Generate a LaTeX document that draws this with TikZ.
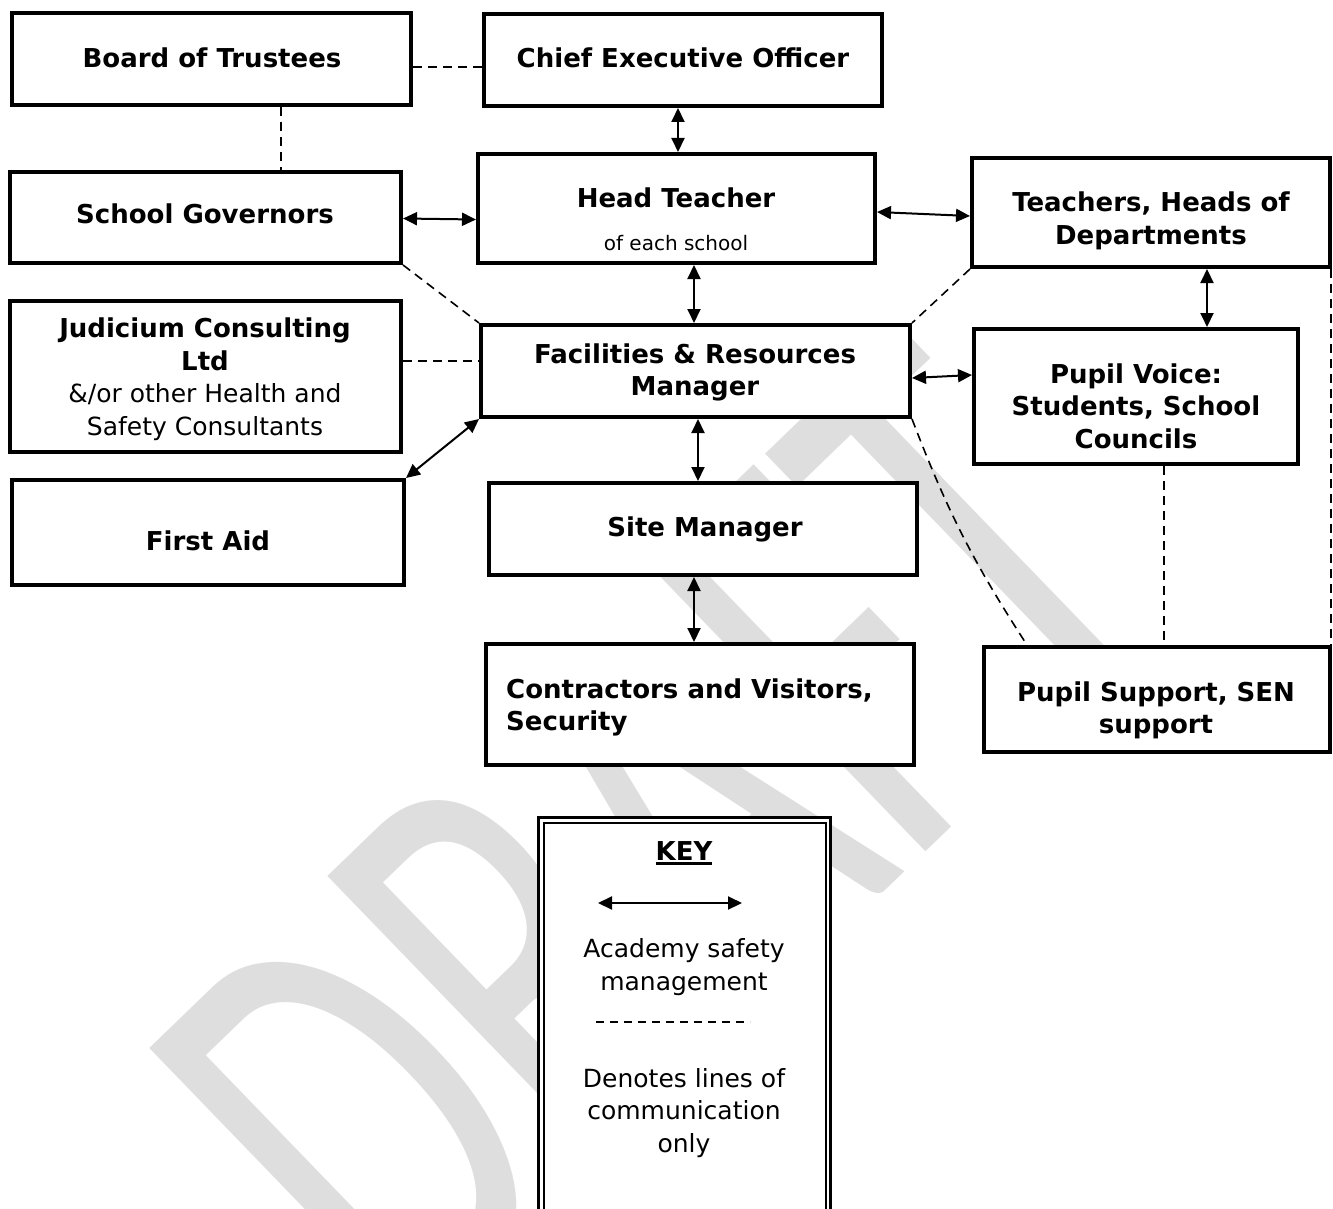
\documentclass[tikz,border=0pt]{standalone}
\usepackage{fontspec}
\setmainfont{DejaVu Sans}
\newfontfamily\wmfont{Carlito}
\usetikzlibrary{arrows.meta,calc}
\definecolor{wm}{RGB}{222,222,222}
\newcommand\keyul[1]{\setbox0=\hbox{#1}\rlap{\rule[-4.5pt]{\wd0}{2.8pt}}\box0}
\begin{document}
\begin{tikzpicture}[x=1pt,y=-1pt,
  box/.style={draw, line width=4pt, fill=white, inner sep=0pt},
  bt/.style={font=\fontsize{26}{32.5}\selectfont\bfseries, align=center, inner sep=0pt},
  rt/.style={font=\fontsize{25}{32.5}\selectfont, align=center, inner sep=0pt},
  st/.style={font=\fontsize{20}{24}\selectfont, align=center, inner sep=0pt},
  arr/.style={line width=2pt, {Triangle[length=14pt,width=13pt]}-{Triangle[length=14pt,width=13pt]}},
  dsh/.style={line width=1.6pt, dash pattern=on 9pt off 6pt},
]
\useasboundingbox (0,0) rectangle (1333,1209);
\clip (0,0) rectangle (1333,1209);
\fill[white] (0,0) rectangle (1333,1209);
% watermark
\node[anchor=base west, inner sep=0pt, text=wm, rotate=44, xscale=4.0, yscale=6.2,
      font=\fontsize{100}{100}\selectfont\wmfont] (wmark) at (406,1354) {DRAFT};
% boxes
\node[box, minimum width=399pt, minimum height=92pt]  (board) at (211.5,59) {};
\node[box, minimum width=398pt, minimum height=92pt]  (ceo)   at (683,60) {};
\node[box, minimum width=391pt, minimum height=91pt]  (gov)   at (205.5,217.5) {};
\node[box, minimum width=397pt, minimum height=109pt] (ht)    at (676.5,208.5) {};
\node[box, minimum width=358pt, minimum height=109pt] (teach) at (1151,212.5) {};
\node[box, minimum width=391pt, minimum height=151pt] (jud)   at (205.5,376.5) {};
\node[box, minimum width=429pt, minimum height=92pt]  (fac)   at (695.5,371) {};
\node[box, minimum width=324pt, minimum height=135pt] (pv)    at (1136,396.5) {};
\node[box, minimum width=392pt, minimum height=105pt] (fa)    at (208,532.5) {};
\node[box, minimum width=428pt, minimum height=92pt]  (site)  at (703,529) {};
\node[box, minimum width=428pt, minimum height=121pt] (contr) at (700,704.5) {};
\node[box, minimum width=346pt, minimum height=105pt] (ps)    at (1157,699.5) {};
% key frame
\node[draw, line width=3pt, fill=white, inner sep=0pt, minimum width=292pt, minimum height=422.5pt] (keyo) at (684.5,1028.75) {};
\node[draw, line width=2pt, inner sep=0pt, minimum width=282pt, minimum height=412.5pt] (keyi) at (684.5,1028.75) {};
% texts
\node[bt] (boardT) at (212,58) {Board of Trustees};
\node[bt] (ceoT) at (683,58) {Chief Executive Officer};
\node[bt] (govT) at (205,214) {School Governors};
\node[bt] (htT1) at (676,198) {Head Teacher};
\node[st] (htT2) at (676,243) {of each school};
\node[bt] (teachT) at (1151,221) {Teachers, Heads of\\Departments};
\node[rt] (judT) at (205,379) {{\bfseries\fontsize{26}{32.5}\selectfont Judicium Consulting}\\{\bfseries\fontsize{26}{32.5}\selectfont Ltd}\\\&/or other Health and\\Safety Consultants};
\node[bt] (facT) at (695,372.5) {Facilities \& Resources\\Manager};
\node[bt] (pvT) at (1136,406) {Pupil Voice:\\Students, School\\Councils};
\node[bt] (faT) at (208,541) {First Aid};
\node[bt] (siteT) at (705,529) {Site Manager};
\node[bt, align=left, anchor=west] (contrT) at (506,707.5) {Contractors and Visitors,\\Security};
\node[bt] (psT) at (1156,710.5) {Pupil Support, SEN\\support};
% management arrows
\draw[arr] ([xshift=-5pt]ceo.south) -- ([xshift=-5pt]ceo.south |- ht.north);
\draw[arr] ([yshift=-1pt]gov.east) -- ([yshift=-11pt]ht.west);
\draw[arr] ([yshift=-3.5pt]ht.east) -- ([yshift=-3.5pt]teach.west);
\draw[arr] ([xshift=17.5pt]ht.south) -- ([xshift=17.5pt]ht.south |- fac.north);
\draw[arr] ([xshift=56pt]teach.south) -- ([xshift=56pt]teach.south |- pv.north);
\draw[arr] ([yshift=-7pt]fac.east) -- ([yshift=21.5pt]pv.west);
\draw[arr] (fac.south west) -- (fa.north east);
\draw[arr] ([xshift=2.5pt]fac.south) -- ([xshift=2.5pt]fac.south |- site.north);
\draw[arr] ([xshift=-9pt]site.south) -- ([xshift=-9pt]site.south |- contr.north);
% communication lines
\draw[dsh] ([yshift=-8pt]board.east) -- ([yshift=-8pt]board.east -| ceo.west);
\draw[dsh] ([xshift=69.5pt]board.south) -- ([xshift=69.5pt]board.south |- gov.north);
\draw[dsh] (gov.south east) -- (fac.north west);
\draw[dsh] (teach.south west) -- (fac.north east);
\draw[dsh] ([yshift=15.5pt]jud.east) -- ([yshift=15.5pt]jud.east -| fac.west);
\draw[dsh] (fac.south east) to[bend right=6] ([xshift=-130pt]ps.north);
\draw[dsh] ([xshift=28pt]pv.south) -- ([xshift=28pt]pv.south |- ps.north);
\draw[dsh] ([xshift=-1pt]teach.south east) -- ([xshift=-1pt]teach.south east |- ps.north);
% key contents
\node[bt] (keyT) at (684,853) {\keyul{KEY}};
\coordinate (ka) at (598,903);
\coordinate (kb) at (742,903);
\draw[arr] (ka) -- (kb);
\node[rt] (keyA) at (684,967) {Academy safety\\management};
\coordinate (kc) at (596,1022);
\coordinate (kd) at (750,1022);
\draw[line width=1.6pt, dash pattern=on 8pt off 6pt] (kc) -- (kd);
\node[rt] (keyB) at (684,1113) {Denotes lines of\\communication\\only};
\end{tikzpicture}
\end{document}
